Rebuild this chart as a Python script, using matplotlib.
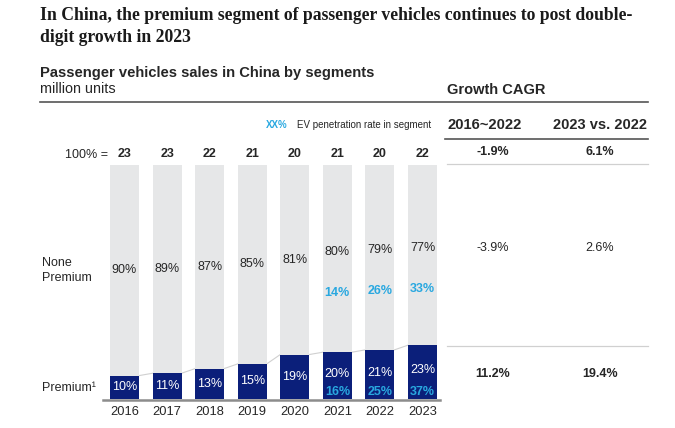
"""Passenger vehicle sales in China by segment, premium vs none-premium, with CAGR table."""

import matplotlib

matplotlib.use("Agg")
import matplotlib.pyplot as plt

W, H = 675, 428

years = ["2016", "2017", "2018", "2019", "2020", "2021", "2022", "2023"]
totals = [23, 23, 22, 21, 20, 21, 20, 22]  # million units
premium_share = [10, 11, 13, 15, 19, 20, 21, 23]
none_premium_share = [90, 89, 87, 85, 81, 80, 79, 77]
ev_premium = [None, None, None, None, None, 16, 25, 37]
ev_none_premium = [None, None, None, None, None, 14, 26, 33]

cagr_headers = ["2016~2022", "2023 vs. 2022"]
cagr_total = ["-1.9%", "6.1%"]
cagr_none_premium = ["-3.9%", "2.6%"]
cagr_premium = ["11.2%", "19.4%"]

NAVY = "#0b1f7a"
GREY_BAR = "#e6e7e8"
EV_BLUE = "#29a8e0"
TXT = "#262626"
FS = 9.0  # bar / axis label size

plt.rcParams["font.family"] = "Liberation Sans"


def fx(x):
    return x / W


def fy(y):
    return 1 - y / H


fig = plt.figure(figsize=(W / 100, H / 100), dpi=100)

# bar area: y=0 at px 399, y=100 at px 165; bar centres 124.5 .. 422.5 px
step = (422.5 - 124.5) / 7
ax = fig.add_axes([fx(103), fy(399), fx(440 - 103), (399 - 165) / H])
ax.set_xlim(-(124.5 - 103) / step, (440 - 124.5) / step)
ax.set_ylim(0, 100)
ax.axis("off")

bw = 29 / step
xs = list(range(len(years)))
ax.bar(xs, none_premium_share, bw, bottom=premium_share, color=GREY_BAR, zorder=1)
ax.bar(xs, premium_share, bw, color=NAVY, zorder=2)

# connectors between premium tops
for i in range(len(xs) - 1):
    ax.plot([i + bw / 2, i + 1 - bw / 2], [premium_share[i], premium_share[i + 1]],
            color="#d0d0d0", lw=0.8, zorder=0)

for i, (p, n) in enumerate(zip(premium_share, none_premium_share)):
    mid_n = p + n / 2
    if ev_none_premium[i] is None:
        ax.text(i, mid_n, f"{n}%", ha="center", va="center", fontsize=FS, color=TXT)
        ax.text(i, p / 2, f"{p}%", ha="center", va="center", fontsize=FS, color="white")
    else:
        ax.text(i, mid_n + 3, f"{n}%", ha="center", va="center", fontsize=FS, color=TXT)
        ax.text(i, mid_n - 14.5, f"{ev_none_premium[i]}%", ha="center", va="center",
                fontsize=FS, color=EV_BLUE, fontweight="bold")
        ax.text(i, p / 2 + 0.8, f"{p}%", ha="center", va="center", fontsize=FS, color="white")
        ax.text(i, 3.2, f"{ev_premium[i]}%", ha="center", va="center",
                fontsize=FS, color=EV_BLUE, fontweight="bold")
    ax.text(i, 104.5, str(totals[i]), ha="center", va="center", fontsize=FS,
            fontweight="bold", color=TXT)
    ax.text(i, -5.5, years[i], ha="center", va="center", fontsize=9.3, color=TXT)

# baseline
fig.add_artist(plt.Line2D([fx(103), fx(440)], [fy(399.5), fy(399.5)], color="#8c8c8c", lw=1.8))

# titles
fig.text(fx(40), fy(15), "In China, the premium segment of passenger vehicles continues to post double-",
         family="Liberation Serif", fontweight="bold", fontsize=12.7, color="#1a1a1a", va="center")
fig.text(fx(40), fy(37), "digit growth in 2023",
         family="Liberation Serif", fontweight="bold", fontsize=12.7, color="#1a1a1a", va="center")
fig.text(fx(40), fy(73), "Passenger vehicles sales in China by segments", fontsize=10.6,
         fontweight="bold", color=TXT, va="center")
fig.text(fx(40), fy(89), "million units", fontsize=10.4, color=TXT, va="center")
fig.text(fx(447), fy(90), "Growth CAGR", fontsize=10.5, fontweight="bold", color=TXT, va="center")
fig.add_artist(plt.Line2D([fx(40), fx(648)], [fy(102), fy(102)], color="#555555", lw=1.2))

# legend
fig.text(fx(266), fy(125), "XX%", fontsize=7, fontweight="bold", color=EV_BLUE, va="center")
fig.text(fx(297), fy(125), "EV penetration rate in segment", fontsize=7, color=TXT, va="center")

# left labels
fig.text(fx(108), fy(155), "100% =", fontsize=FS, color=TXT, ha="right", va="center")
fig.text(fx(42), fy(263), "None", fontsize=FS, color=TXT, va="center")
fig.text(fx(42), fy(278), "Premium", fontsize=FS, color=TXT, va="center")
fig.text(fx(42), fy(388), "Premium\u00b9", fontsize=FS, color=TXT, va="center")

# CAGR table
fig.text(fx(447), fy(125), cagr_headers[0], fontsize=10.6, fontweight="bold", color=TXT, va="center")
fig.text(fx(647), fy(125), cagr_headers[1], fontsize=10.5, fontweight="bold", color=TXT,
         va="center", ha="right")
fig.add_artist(plt.Line2D([fx(445), fx(648)], [fy(139), fy(139)], color="#555555", lw=1.2))
col_x = [493, 600]
for j in range(2):
    fig.text(fx(col_x[j]), fy(152), cagr_total[j], fontsize=FS, fontweight="bold",
             color=TXT, ha="center", va="center")
    fig.text(fx(col_x[j]), fy(248), cagr_none_premium[j], fontsize=FS,
             color=TXT, ha="center", va="center")
    fig.text(fx(col_x[j]), fy(374), cagr_premium[j], fontsize=FS, fontweight="bold",
             color=TXT, ha="center", va="center")
for yy in (164, 346):
    fig.add_artist(plt.Line2D([fx(447), fx(648)], [fy(yy), fy(yy)], color="#d0d0d0", lw=0.9))

fig.savefig("out.png", dpi=100)
